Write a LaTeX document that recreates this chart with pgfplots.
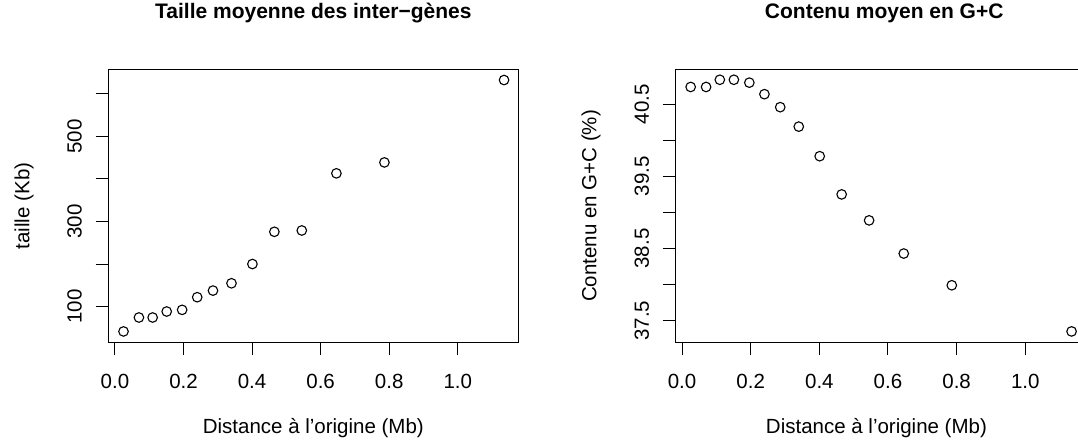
\documentclass[border=0pt]{standalone}
\usepackage{fontspec}
\setmainfont{Liberation Sans}
\usepackage{pgfplots}
\pgfplotsset{compat=1.18}
\begin{document}
\begin{tikzpicture}
\path[draw=none] (0bp,0bp) rectangle (1078bp,444bp);
\pgfplotsset{
  myax/.style={
    scale only axis, height=272.7bp,
    anchor=south west,
    font=\fontsize{20.5bp}{24bp}\selectfont,
    axis line style={line width=1bp, black},
    tick style={line width=1bp, black},
    tick align=outside, tick pos=left,
    major tick length=12.7bp,
    clip=false,
    /pgf/number format/assume math mode=true,
    xmin=-0.0195,
    xtick={0,0.2,0.4,0.6,0.8,1},
    xticklabels={0.0,0.2,0.4,0.6,0.8,1.0},
    xticklabel style={anchor=base},
    xticklabel shift=33.6bp,
    yticklabel style={rotate=90, anchor=base},
    yticklabel shift=13.9bp,
    title style={at={(0.5,1)}, anchor=base, yshift=45bp, font=\fontsize{21bp}{24bp}\selectfont\bfseries},
    xlabel style={at={(0.5,0)}, anchor=base, yshift=-91.3bp},
    ylabel style={at={([xshift=-79bp]axis description cs:0,0.5)}, anchor=base, rotate=0},
    xlabel={Distance à l’origine (Mb)},
  },
  mypl/.style={only marks, mark=o, mark size=4.8bp, black, line width=1.1bp},
}
\begin{axis}[myax, at={(108.3bp,103.3bp)}, width=410.4bp, xmax=1.177,
  ymin=16, ymax=657.2,
  ytick={100,200,300,400,500,600},
  yticklabels={100,,300,,500,},
  title={Taille moyenne des inter−gènes},
  ylabel={taille (Kb)}]
\addplot[mypl] coordinates {
(0.025,41.4) (0.070,74.2) (0.110,74.2) (0.151,88.3) (0.196,92.2) (0.240,121.9) (0.286,137.5) (0.340,154.7) (0.401,200) (0.465,275.8) (0.545,278.9) (0.646,413.3) (0.786,439) (1.135,632.8)
};
\end{axis}
\begin{axis}[myax, at={(675.7bp,103.3bp)}, width=402.3bp, xmax=1.1523,
  axis x line*=box, axis y line*=left,
  ymin=37.2, ymax=40.98,
  ytick={37.5,38,38.5,39,39.5,40,40.5},
  yticklabels={37.5,,38.5,,39.5,,40.5},
  title={Contenu moyen en G+C},
  title style={xshift=7.8bp},
  ylabel={Contenu en G+C (\%)}]
\addplot[mypl] coordinates {
(0.025,40.74) (0.070,40.74) (0.110,40.84) (0.151,40.84) (0.196,40.80) (0.240,40.64) (0.286,40.46) (0.340,40.19) (0.401,39.78) (0.465,39.25) (0.545,38.89) (0.646,38.43) (0.786,37.99) (1.135,37.35)
};
\end{axis}
\end{tikzpicture}
\end{document}
